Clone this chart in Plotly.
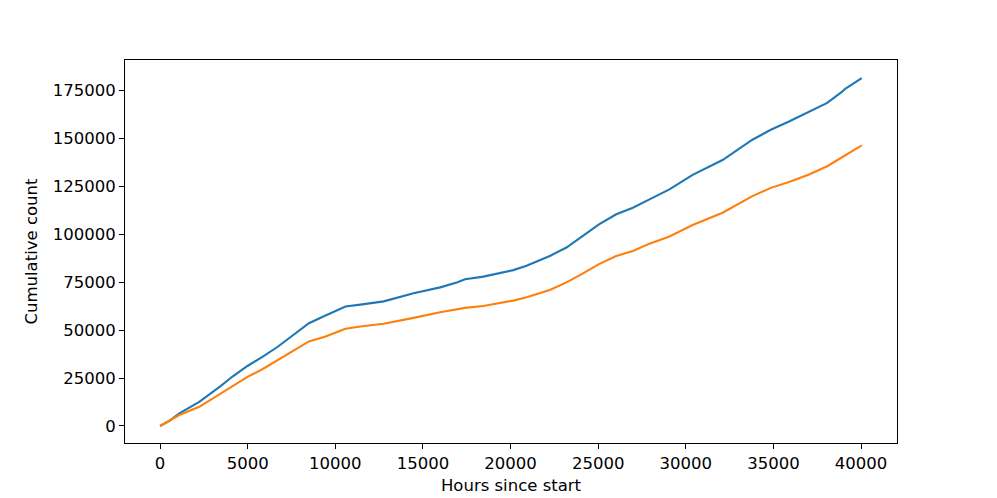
import plotly.graph_objects as go

hours_blue = [0, 530, 1098, 2236, 3470, 4133, 4988, 5840, 6695, 7548, 8494, 9442, 10295, 10580,
              11433, 12760, 14465, 15983, 16930, 17405, 18446, 20153, 20912, 22240, 23190, 24135,
              24515, 25045, 26033, 26980, 27928, 29065, 30390, 32097, 33800, 34850, 35890, 37030,
              38070, 38923, 39116, 40040]
count_blue = [0, 2700, 6600, 12600, 20900, 25800, 31300, 36000, 41200, 47200, 53600, 57600, 61100,
              62300, 63300, 65000, 69200, 72300, 74900, 76500, 77900, 81300, 83600, 88700, 93100,
              99100, 101700, 105200, 110400, 113800, 118200, 123400, 131000, 138700, 149300, 154500,
              158800, 163700, 168500, 174400, 176000, 181400]

hours_orange = [0, 530, 1098, 2236, 3470, 4133, 4988, 5840, 6695, 7548, 8494, 9442, 10295, 10580,
                11433, 12760, 14465, 15983, 17405, 18446, 20153, 20912, 22240, 23190, 24135, 25045,
                26033, 26980, 27928, 29065, 30390, 32097, 33800, 34850, 35890, 37030, 38070, 38923,
                40040]
count_orange = [0, 2700, 5700, 10000, 16800, 20800, 25600, 29600, 34300, 38600, 44100, 46700, 49800,
                50700, 51900, 53300, 56400, 59300, 61600, 62600, 65400, 67100, 70900, 74900, 79600,
                84400, 88700, 91300, 95100, 98800, 104800, 111200, 119900, 124200, 127300, 131200,
                135500, 140100, 146400]

x_ticks = [0, 5000, 10000, 15000, 20000, 25000, 30000, 35000, 40000]
y_ticks = [0, 25000, 50000, 75000, 100000, 125000, 150000, 175000]

FONT = dict(family="DejaVu Sans", size=16.5, color="black")

fig = go.Figure()
fig.add_trace(go.Scatter(x=hours_blue, y=count_blue, mode="lines",
                         line=dict(color="#1f77b4", width=2.1), showlegend=False))
fig.add_trace(go.Scatter(x=hours_orange, y=count_orange, mode="lines",
                         line=dict(color="#ff7f0e", width=2.1), showlegend=False))

axis_common = dict(showgrid=False, zeroline=False, showline=True, linecolor="black", linewidth=1,
                   mirror=True, ticks="outside", ticklen=5, tickwidth=1, tickcolor="black",
                   tickfont=FONT, automargin=False)

fig.update_xaxes(range=[-2002, 42052], tickvals=x_ticks, ticktext=[str(v) for v in x_ticks],
                 title=dict(text="Hours since start", font=FONT, standoff=7), **axis_common)
fig.update_yaxes(range=[-8870, 190890], tickvals=y_ticks, ticktext=[str(v) for v in y_ticks],
                 title=dict(text="Cumulative count", font=FONT, standoff=10), **axis_common)

fig.update_layout(width=989, height=490, margin=dict(l=117, r=100, t=52, b=55),
                  paper_bgcolor="white", plot_bgcolor="white")

fig.write_html("out.html")
